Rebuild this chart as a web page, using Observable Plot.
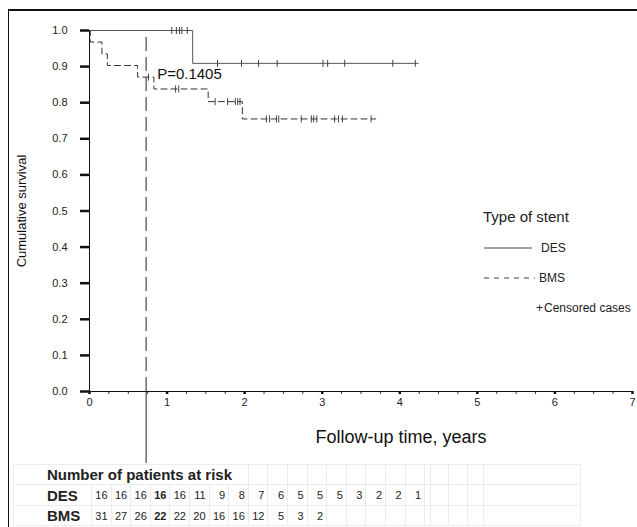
<!DOCTYPE html>
<html><head><meta charset="utf-8">
<script src="https://cdn.jsdelivr.net/npm/d3@7"></script>
<script src="https://cdn.jsdelivr.net/npm/@observablehq/plot@0.6"></script>
<style>
body{margin:0;background:#fff;font-family:"Liberation Sans",Arial,sans-serif;}
#wrap{position:relative;width:637px;height:527px;overflow:hidden;background:#fff;}
#chart{position:absolute;left:0;top:0;}
#frame{position:absolute;left:8px;top:9px;width:700px;height:600px;border-left:1.5px solid #111;border-top:2px solid #111;pointer-events:none;}
.lg{position:absolute;line-height:1;color:#222;white-space:nowrap;}
#risk{position:absolute;left:13px;top:464px;border-collapse:collapse;table-layout:fixed;color:#222;}
#risk td{border:1px solid #ececec;padding:0;white-space:nowrap;overflow:visible;}
#risk td.num{text-align:right;padding-right:3px;font-size:11px;}
#risk td.lab{font-weight:bold;font-size:15px;padding-left:33px;}
#risk td.b{font-weight:bold;}
</style></head>
<body>
<div id="wrap">
  <div id="chart"></div>
  <div id="frame"></div>
  <div class="lg" style="left:483px;top:209px;font-size:15px">Type of stent</div>
  <svg style="position:absolute;left:484px;top:244px" width="52" height="8"><line x1="0" y1="4" x2="48" y2="4" stroke="#444" stroke-width="1"/></svg>
  <div class="lg" style="left:541px;top:242px;font-size:12px">DES</div>
  <svg style="position:absolute;left:484px;top:274px" width="52" height="8"><line x1="0" y1="4" x2="51" y2="4" stroke="#444" stroke-width="1" stroke-dasharray="5,5"/></svg>
  <div class="lg" style="left:539px;top:272px;font-size:12px">BMS</div>
  <div class="lg" style="left:536px;top:302px;font-size:12px"><span style="margin-right:1px">+</span>Censored cases</div>
  <table id="risk"></table>
</div>
<script>
// ---- data ----
const xTicks = [0, 1, 2, 3, 4, 5, 6, 7];
const xMinor = [0.25, 0.5, 0.75, 1.25, 1.5, 1.75, 2.25, 2.5, 2.75, 3.25, 3.5, 3.75, 4.25, 4.5, 4.75, 5.25, 5.5, 5.75, 6.25, 6.5, 6.75];
const yTicks = [0, 0.1, 0.2, 0.3, 0.4, 0.5, 0.6, 0.7, 0.8, 0.9, 1.0];

// DES (drug-eluting stent) Kaplan-Meier steps
const desTimes = [0, 1.33, 4.24];
const desSurv  = [1.0, 0.909, 0.909];
const desCensored = [1.06, 1.12, 1.16, 1.19, 1.26, 1.65, 1.96, 2.18, 2.42, 3.01, 3.07, 3.29, 3.91, 4.20];

// BMS (bare-metal stent) Kaplan-Meier steps
const bmsTimes = [0, 0.01, 0.16, 0.23, 0.62, 0.83, 1.53, 1.97, 3.69];
const bmsSurv  = [1.0, 0.968, 0.935, 0.903, 0.871, 0.838, 0.803, 0.755, 0.755];
const bmsCensored = [0.76, 1.11, 1.15, 1.62, 1.78, 1.88, 1.91, 1.94, 2.28, 2.32, 2.41, 2.44, 2.73, 2.86, 2.89, 2.93, 3.16, 3.21, 3.26, 3.63];

const refTime = 0.73;
const pLabel = "P=0.1405";

// Number at risk table
const riskHeader = "Number of patients at risk";
const riskGroups = ["DES", "BMS"];
const riskDES = [16, 16, 16, 16, 16, 11, 9, 8, 7, 6, 5, 5, 5, 3, 2, 2, 1];
const riskBMS = [31, 27, 26, 22, 22, 20, 16, 16, 12, 5, 3, 2];
const riskBoldIndex = 3;

// ---- chart ----
function stepAt(times, surv, t) {
  let s = surv[0];
  for (let i = 0; i < times.length; i++) if (times[i] <= t) s = surv[i];
  return s;
}
const desLine = desTimes.map((t, i) => ({t, s: desSurv[i]}));
const bmsLine = bmsTimes.map((t, i) => ({t, s: bmsSurv[i]}));
const desMarks = desCensored.map(t => ({t, s: stepAt(desTimes, desSurv, t)}));
const bmsMarks = bmsCensored.map(t => ({t, s: stepAt(bmsTimes, bmsSurv, t)}));

const vbar = {draw(ctx, size) { const h = Math.sqrt(size / Math.PI); ctx.moveTo(0, -h); ctx.lineTo(0, h); }};

const chart = Plot.plot({
  width: 637, height: 464,
  marginLeft: 89, marginRight: 5, marginTop: 30, marginBottom: 73,
  style: {background: "transparent", fontFamily: "Liberation Sans, Arial, sans-serif", color: "#222", overflow: "visible"},
  x: {domain: [0, 7]},
  y: {domain: [0, 1]},
  marks: [
    Plot.axisY({ticks: yTicks, tickFormat: d3.format(".1f"), tickSize: 9, tickPadding: 13, strokeWidth: 2.5, fontSize: 11, label: null, stroke: "#111"}),
    Plot.axisX({ticks: xMinor, tickSize: 3, tickFormat: () => "", label: null, strokeWidth: 1, stroke: "#333"}),
    Plot.axisX({ticks: xTicks, tickFormat: d3.format("d"), tickSize: 3, tickPadding: 4, strokeWidth: 2.5, fontSize: 11, label: null, stroke: "#111"}),
    Plot.ruleX([0], {stroke: "#111", strokeWidth: 1}),
    Plot.ruleY([0], {stroke: "#111", strokeWidth: 1.2}),
    Plot.ruleX([refTime], {y1: 0, y2: 0.99, stroke: "#222", strokeDasharray: "14,6"}),
    Plot.ruleX([refTime], {stroke: "#222", insetTop: 361, insetBottom: -72}),
    Plot.line(desLine, {x: "t", y: "s", curve: "step-after", stroke: "#555", strokeWidth: 1}),
    Plot.line(bmsLine, {x: "t", y: "s", curve: "step-after", stroke: "#333", strokeWidth: 1, strokeDasharray: "6,4"}),
    Plot.dot(desMarks, {x: "t", y: "s", symbol: vbar, r: 3.5, stroke: "#444", fill: "none", strokeWidth: 1}),
    Plot.dot(bmsMarks, {x: "t", y: "s", symbol: vbar, r: 3.5, stroke: "#444", fill: "none", strokeWidth: 1}),
    Plot.text([pLabel], {x: refTime, y: 0.88, dx: 11, textAnchor: "start", fontSize: 15, fill: "#111"}),
    Plot.text(["Follow-up time, years"], {frameAnchor: "bottom", textAnchor: "middle", lineAnchor: "middle", dx: 40, dy: 46, fontSize: 18, fill: "#111"}),
    Plot.text(["Cumulative survival"], {frameAnchor: "left", textAnchor: "middle", lineAnchor: "middle", dx: -68, rotate: -90, fontSize: 13, fill: "#111"})
  ]
});
document.getElementById("chart").appendChild(chart);

// ---- risk table ----
const table = document.getElementById("risk");
const widths = [78].concat(riskDES.map(() => 19.6), [5.6, 18.4, 19, 16, 96.6]);
const cg = document.createElement("colgroup");
widths.forEach(w => { const c = document.createElement("col"); c.style.width = w + "px"; cg.appendChild(c); });
table.appendChild(cg);
table.style.width = d3.sum(widths) + "px";
const nCols = widths.length;
const rowH = [20, 21, 20];
// header
{
  const tr = table.insertRow(); tr.style.height = rowH[0] + "px";
  const td = tr.insertCell(); td.colSpan = 9; td.className = "lab"; td.style.paddingLeft = "33px"; td.textContent = riskHeader;
  for (let i = 9; i < nCols; i++) tr.insertCell();
}
[riskDES, riskBMS].forEach((vals, r) => {
  const tr = table.insertRow(); tr.style.height = rowH[r + 1] + "px";
  const lab = tr.insertCell(); lab.className = "lab"; lab.textContent = riskGroups[r];
  for (let i = 1; i < nCols; i++) {
    const td = tr.insertCell();
    const v = vals[i - 1];
    if (i - 1 < riskDES.length) td.className = "num" + (i - 1 === riskBoldIndex ? " b" : "");
    if (v !== undefined) td.textContent = v;
  }
});
</script>
</body></html>
